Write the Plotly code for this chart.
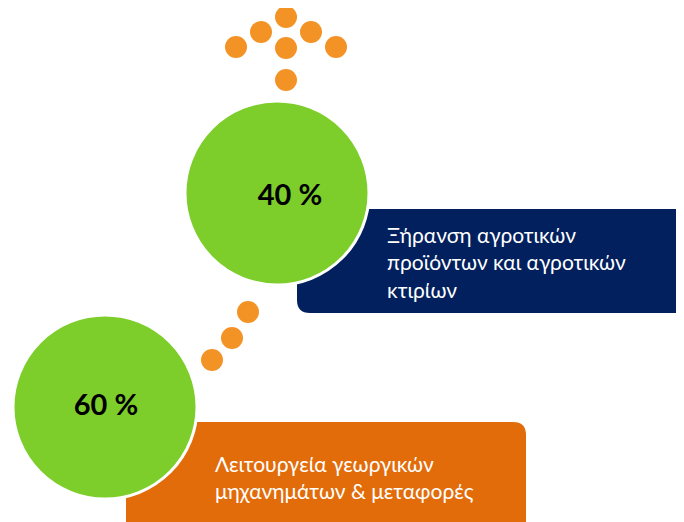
import plotly.graph_objects as go

# ---- data ----
shares = [40, 60]
share_labels = ["40 %", "60 %"]
categories = [
    "Ξήρανση αγροτικών<br>προϊόντων και αγροτικών<br>κτιρίων",
    "Λειτουργεία γεωργικών<br>μηχανημάτων & μεταφορές",
]

# ---- layout constants (page pixel space) ----
W, H = 684, 522
OFF = 8  # default page body margin
circle_x = [277, 105]
circle_y = [193, 407]
circle_d = 184
pct_x = [290, 106]
pct_y = [198, 408]
box_rects = [(297, 209, 690, 313), (126, 422, 526, 545)]
box_colors = ["#02205E", "#E36C0A"]
label_x = [385, 213]
label_y = [262, 477]
green = "#7DCE2B"
dot_color = "#F39325"
arrow_dots_x = [286, 261, 311, 236, 336, 286, 286]
arrow_dots_y = [17, 32, 32, 47, 47, 48, 80]
diag_dots_x = [248, 232, 212]
diag_dots_y = [312, 338, 360]
font = "Lato, 'Open Sans', sans-serif"


def rounded_rect(x0, y0, x1, y1, r):
    return (f"M {x0+r},{y0} L {x1-r},{y0} Q {x1},{y0} {x1},{y0+r} "
            f"L {x1},{y1-r} Q {x1},{y1} {x1-r},{y1} L {x0+r},{y1} "
            f"Q {x0},{y1} {x0},{y1-r} L {x0},{y0+r} Q {x0},{y0} {x0+r},{y0} Z")


fig = go.Figure()

shapes = []
for (x0, y0, x1, y1), c in zip(box_rects, box_colors):
    shapes.append(dict(type="path", path=rounded_rect(x0, y0, x1, y1, 13),
                       fillcolor=c, line=dict(width=0), layer="below",
                       xref="x", yref="y"))

# dots
fig.add_trace(go.Scatter(
    x=arrow_dots_x + diag_dots_x, y=arrow_dots_y + diag_dots_y, mode="markers",
    marker=dict(size=22, color=dot_color, line=dict(width=0)),
    hoverinfo="skip", showlegend=False, cliponaxis=False))

# circles
fig.add_trace(go.Scatter(
    x=circle_x, y=circle_y, mode="markers",
    marker=dict(size=circle_d, color=green, line=dict(width=3, color="white")),
    customdata=shares, hovertemplate="%{customdata} %<extra></extra>",
    showlegend=False, cliponaxis=False))

# percentages
fig.add_trace(go.Scatter(
    x=pct_x, y=pct_y, mode="text", text=[f"<b>{s}</b>" for s in share_labels],
    textfont=dict(size=29, color="black", family=font),
    textposition="middle center", hoverinfo="skip", showlegend=False))

annotations = []
for lx, ly, txt in zip(label_x, label_y, categories):
    annotations.append(dict(x=lx, y=ly, xref="x", yref="y", text=txt,
                            showarrow=False, xanchor="left", yanchor="middle",
                            align="left",
                            font=dict(size=21, color="white", family=font)))

fig.update_layout(
    width=W - OFF, height=H - OFF, margin=dict(l=0, r=0, t=0, b=0),
    paper_bgcolor="white", plot_bgcolor="white",
    xaxis=dict(range=[OFF, W], visible=False, fixedrange=True),
    yaxis=dict(range=[H, OFF], visible=False, fixedrange=True),
    shapes=shapes, annotations=annotations,
)

fig.write_html("out.html")
